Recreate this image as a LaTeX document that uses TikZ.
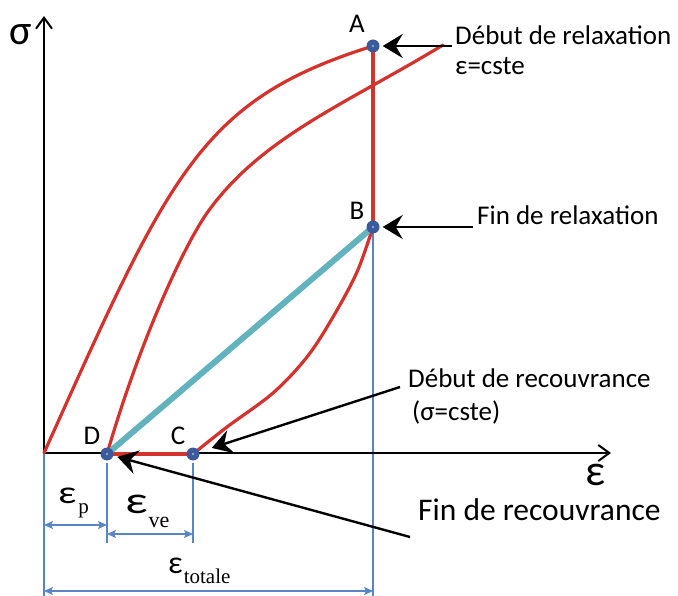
\documentclass[tikz,border=0pt]{standalone}
\usepackage{fontspec}
\setmainfont{Carlito}
\newfontfamily\timesf{Liberation Serif}
\usetikzlibrary{arrows.meta}
\definecolor{cred}{HTML}{D4322C}
\definecolor{cteal}{HTML}{62B3BE}
\definecolor{cdim}{HTML}{5B84C8}
\definecolor{cpt}{HTML}{3A5A9B}
\definecolor{cptdot}{HTML}{8FA6D2}
\tikzset{
  axisline/.style={line width=2pt, -{Straight Barb[length=11pt,width=16pt,line width=2pt]}},
  redc/.style={cred, line width=3.2pt, line cap=round, line join=round},
  tealc/.style={cteal, line width=6pt},
  dimv/.style={cdim, line width=1.3pt},
  dima/.style={cdim, line width=1.3pt, {Stealth[length=9pt,width=8pt,inset=2pt]}-{Stealth[length=9pt,width=8pt,inset=2pt]}},
  blk/.style={black, line width=2.4pt, -{Stealth[length=20pt,width=24pt,inset=7pt]}},
  ptnode/.style={circle, fill=cpt, minimum size=13pt, inner sep=0pt},
  lbl/.style={font=\fontsize{27}{27}\selectfont, inner sep=0pt},
  txt/.style={font=\fontsize{27}{27}\selectfont, inner sep=0pt, anchor=base west},
}
\begin{document}
\begin{tikzpicture}[x=1pt,y=-1pt]
\useasboundingbox (0,0) rectangle (678,596);
% coordinates
\coordinate (O) at (44,453);
\coordinate (ytop) at (44,16);
\coordinate (xend) at (611,453);
\coordinate (c2mid) at (207,213);
\coordinate (c2end) at (443,45);
\coordinate (Lb) at (44,596);
\coordinate (Rb) at (373,596);
\coordinate (Dt) at (107,463);
\coordinate (Db) at (107,543);
\coordinate (Ct) at (193,463);
\coordinate (Cb) at (193,543);
\coordinate (p1) at (44,525);
\coordinate (p2) at (107,525);
\coordinate (v1) at (107,534);
\coordinate (v2) at (193,534);
\coordinate (t1) at (44,591);
\coordinate (t2) at (373,591);
\coordinate (aA) at (452,46);
\coordinate (aB) at (473,227);
\coordinate (aC) at (400,387);
\coordinate (aD) at (410,537);
\path (373,46) coordinate (Apos) (373,227) coordinate (Bpos) (193,454) coordinate (Cpos) (107,454) coordinate (Dpos);
% dimension lines
\draw[dimv] (O) -- (Lb);
\draw[dimv] (Bpos) -- (Rb);
\draw[dimv] (Dt) -- (Db);
\draw[dimv] (Ct) -- (Cb);
\draw[dima] (p1) -- (p2);
\draw[dima] (v1) -- (v2);
\draw[dima] (t1) -- (t2);
% axes
\draw[axisline] (O) -- (ytop);
\draw[axisline] (O) -- (xend);
% curves
\draw[redc] (O) .. controls (170,173) and (200,100) .. (Apos);
\draw[redc] (Dpos) .. controls (140,340) and (184,246) .. (c2mid)
   .. controls (260.6,137.8) and (342,106) .. (c2end);
\draw[redc] plot[smooth, tension=0.55] coordinates {(Cpos) (227,427) (273,393) (307,357) (333,317) (357,272) (Bpos)};
\draw[redc] (Apos) -- (Bpos);
\draw[redc] (Dpos) -- (Cpos);
\draw[tealc] (Dpos) -- (Bpos);
% point nodes
\node[ptnode] (A) at (Apos) {};
\node[ptnode] (B) at (Bpos) {};
\node[ptnode] (C) at (Cpos) {};
\node[ptnode] (D) at (Dpos) {};
\foreach \p in {A,B,C,D} \fill[cptdot] (\p) circle (1.3pt);
% labels
\node[lbl, anchor=base] (lA) at (357,33) {A};
\node[lbl, anchor=base] (lB) at (357,220) {B};
\node[lbl, anchor=base] (lC) at (178,444) {C};
\node[lbl, anchor=base] (lD) at (92,444) {D};
\node[font=\fontsize{42}{42}\selectfont, inner sep=0pt, anchor=base] (sig) at (21,45) {σ};
\node[font=\fontsize{44}{44}\selectfont, inner sep=0pt, anchor=base] (eps) at (596,485) {ε};
% annotation texts
\node[txt] (tA1) at (455,45) {Début de relaxation};
\node[txt] (tA2) at (455,75) {ε=cste};
\node[txt] (tB) at (477,225) {Fin de relaxation};
\node[txt] (tC1) at (408,388) {Début de recouvrance};
\node[txt] (tC2) at (412,420) {(σ=cste)};
\node[txt, font=\fontsize{31.5}{31.5}\selectfont] (tD) at (418,520) {Fin de recouvrance};
% arrows
\draw[blk, shorten >=3pt] (aA) -- (A);
\draw[blk, shorten >=3pt] (aB) -- (B);
\draw[blk, shorten >=13pt] (aC) -- (C);
\draw[blk, shorten >=4pt] (aD) -- (D);
% dimension labels
\node[inner sep=0pt, anchor=base west] (ep) at (58,503) {\fontsize{32}{32}\selectfont\scalebox{1.25}[1]{ε}\hspace{2pt}\raisebox{-10.5pt}{\timesf\fontsize{21}{21}\selectfont p}};
\node[inner sep=0pt, anchor=base west] (eve) at (125,513) {\fontsize{38}{38}\selectfont\scalebox{1.3}[1]{ε}\hspace{1pt}\raisebox{-14pt}{\timesf\fontsize{22}{22}\selectfont ve}};
\node[inner sep=0pt, anchor=base west] (etot) at (168,573) {\fontsize{32}{32}\selectfont ε\hspace{1pt}\raisebox{-10pt}{\timesf\fontsize{21}{21}\selectfont totale}};
\end{tikzpicture}
\end{document}
